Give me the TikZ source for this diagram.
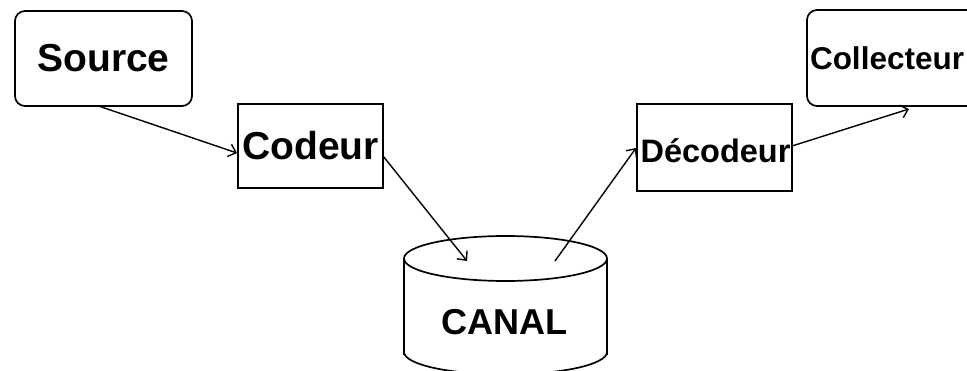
\documentclass[tikz,border=0pt]{standalone}
\usepackage{fontspec}
\setmainfont{Liberation Sans}
\usetikzlibrary{arrows.meta}
\tikzset{
  box/.style={draw=black, line width=1.7pt, rectangle, inner sep=0pt, font=\bfseries},
  roundbox/.style={box, rounded corners=10pt},
  link/.style={line width=1.4pt, -{Straight Barb[length=7pt,width=13pt,line width=1.4pt]}},
  bigtext/.style={font=\fontsize{39}{41}\selectfont\bfseries},
  midtext/.style={font=\fontsize{32.5}{35}\selectfont\bfseries},
  smalltext/.style={font=\fontsize{31.5}{33}\selectfont\bfseries},
}
\begin{document}
\begin{tikzpicture}[x=1pt,y=-1pt]
  \useasboundingbox (0,0) rectangle (967,371);
  \clip (0,0) rectangle (967,371);

  % boxes of the chain
  \node[roundbox, bigtext, minimum width=177pt, minimum height=95pt] (src) at (103.5,58.5) {Source};
  \node[box, bigtext, minimum width=145pt, minimum height=84pt] (cod) at (310.5,146) {Codeur};
  \node[box, minimum width=155pt, minimum height=87pt] (dec) at (714.5,147.5) {};
  \node[midtext] (dect) at (715.5,151) {Décodeur};
  \node[roundbox, smalltext, inner xsep=3pt, text width=172pt, align=left, minimum height=96pt] (col) at (896,58) {Collecteur};

  % the channel drawn as a cylinder
  \draw[line width=1.7pt] (505.5,258.5) ellipse [x radius=101.5, y radius=22.5];
  \draw[line width=1.7pt] (404,258.5) -- (404,355);
  \draw[line width=1.7pt] (607,258.5) -- (607,355);
  \draw[line width=1.7pt] (404,352) .. controls (404,364.4) and (449.5,374.5) .. (505.5,374.5)
                                   .. controls (561.5,374.5) and (607,364.4) .. (607,352);
  \node[font=\fontsize{36}{38}\selectfont\bfseries] (canal) at (504.5,322) {CANAL};
  \coordinate (canalIn) at (467,261);
  \coordinate (canalOut) at (555,261);

  % connectors
  \coordinate (srcOut) at (100,106.5);
  \coordinate (codIn) at (237,153);
  \coordinate (codOut) at (383,156);
  \coordinate (decIn) at (636,148);
  \coordinate (decOut) at (792,146);
  \coordinate (colIn) at (909,109);
  \draw[link] (srcOut) -- (codIn);
  \draw[link] (codOut) -- (canalIn);
  \draw[link] (canalOut) -- (decIn);
  \draw[link] (decOut) -- (colIn);
\end{tikzpicture}
\end{document}
